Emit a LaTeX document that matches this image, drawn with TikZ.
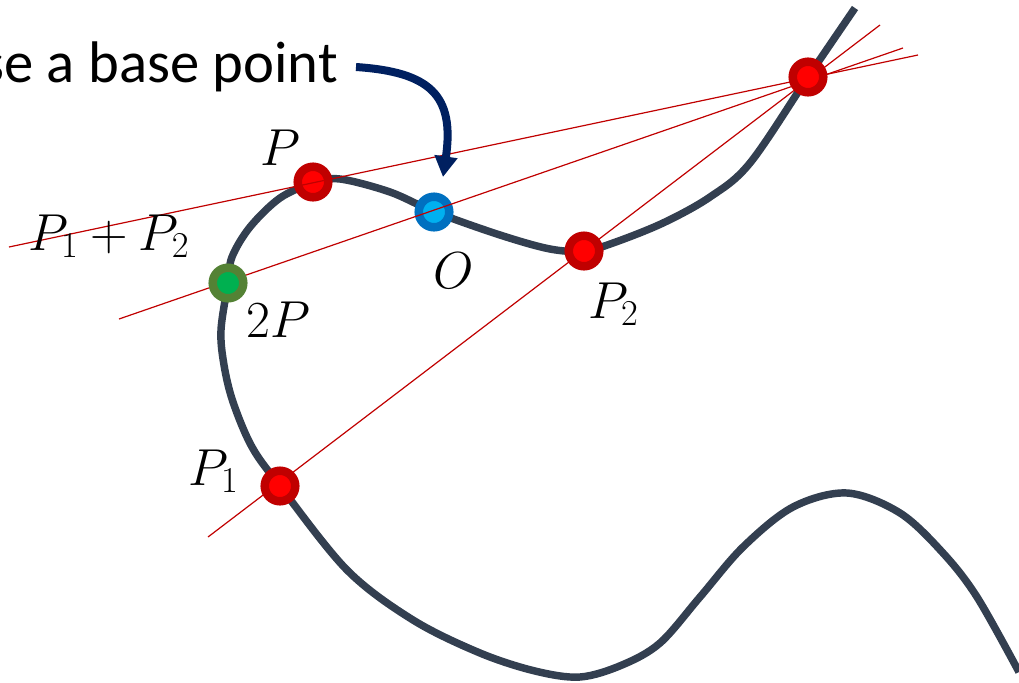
\RequirePackage{fix-cm}
\documentclass[tikz,border=0pt]{standalone}
\usepackage{fontspec}
\setmainfont{Carlito}
\usetikzlibrary{arrows.meta}
\definecolor{curvecol}{HTML}{333F50}
\definecolor{redfill}{HTML}{FF0000}
\definecolor{redring}{HTML}{C00000}
\definecolor{bluefill}{HTML}{00B0F0}
\definecolor{bluering}{HTML}{0070C0}
\definecolor{greenfill}{HTML}{00B050}
\definecolor{greenring}{HTML}{548235}
\definecolor{navy}{HTML}{002060}
\tikzset{
  pt/.style={circle, minimum size=22.9pt, inner sep=0pt, line width=6.4pt},
  redpt/.style={pt, fill=redfill, draw=redring},
  bluept/.style={pt, fill=bluefill, draw=bluering},
  greenpt/.style={pt, fill=greenfill, draw=greenring},
  secant/.style={draw=redring, line width=0.9pt},
  curveline/.style={draw=curvecol, line width=5.6pt},
  lbl/.style={anchor=base west, inner sep=0pt, font=\fontsize{39}{42}\selectfont},
}
\begin{document}
\begin{tikzpicture}[x=0.75pt, y=-0.75pt]
\useasboundingbox (0,0) rectangle (1019,682);
% curve
\draw[curveline, line cap=butt] plot[smooth, tension=0.55] coordinates {
(855,8) (808,77) (750,163) (710,197) (663,223) (613,243) (584,251) (550,249) (500,235) (435,212) (390,192) (340,179) (313,183) (280,198) (250,227) (232,257) (228,283) (221,330) (224,365) (233,402) (252,447) (280,486) (347,570) (413,620) (480,653) (535,671) (580,677) (622,665) (660,643) (700,597) (743,547) (793,507) (847,493) (900,513) (943,553) (977,597) (1019,672)};
% points drawn under the lines
\node[redpt] (P) at (313,182) {};
\node[bluept] (O) at (434,212) {};
% secant / tangent lines
\coordinate (l1a) at (9,247);
\coordinate (l1b) at (918,55);
\coordinate (l2a) at (119,319);
\coordinate (l2b) at (903,48);
\coordinate (l3a) at (208,537);
\coordinate (l3b) at (880,25);
\draw[secant] (l1a) -- (l1b);
\draw[secant] (l2a) -- (l2b);
\draw[secant] (l3a) -- (l3b);
% points drawn over the lines
\node[redpt] (R) at (808,77) {};
\node[greenpt] (P2x) at (228,283) {};
\node[redpt] (P1) at (280,486) {};
\node[redpt] (P2) at (584,251) {};
% labels
\node[lbl] (lP) at (260,165) {$P$};
\node[lbl] (lsum) at (28,250) {$P_1 + P_2$};
\node[lbl] (l2P) at (246,337) {$2P$};
\node[lbl] (lO) at (433,288) {$O$};
\node[lbl] (lP2) at (588,318) {$P_2$};
\node[lbl] (lP1) at (188,485) {$P_1$};
% caption and arrow
\node[anchor=base east, inner sep=0pt, font=\fontsize{44}{48}\selectfont] (cap) at (338,82) {se a base point};
\coordinate (arrs) at (356,67);
\coordinate (arre) at (443,177);
\draw[navy, line width=6pt, -{Triangle[width=16.5pt, length=15.5pt]}] (arrs) .. controls (430,72) and (455,95) .. (arre);
\end{tikzpicture}
\end{document}
